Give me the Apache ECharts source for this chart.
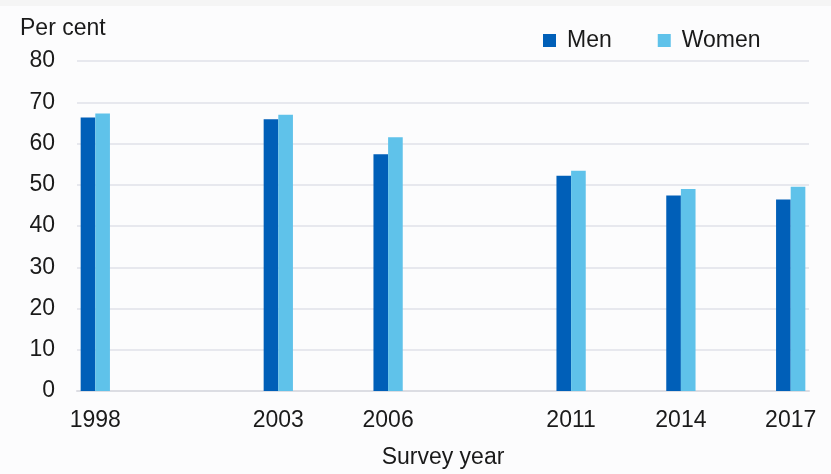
<!DOCTYPE html>
<html><head><meta charset="utf-8">
<script src="https://cdn.jsdelivr.net/npm/echarts@6/dist/echarts.min.js"></script>
<style>html,body{margin:0;padding:0;background:#fcfcfd}#c{width:831px;height:474px}</style>
</head><body><div id="c"></div>
<script>
const surveyYears = ['1998','2003','2006','2011','2014','2017'];
const men   = [66.3, 65.9, 57.4, 52.2, 47.4, 46.4];
const women = [67.3, 67.0, 61.5, 53.4, 49.0, 49.5];
const yTicks = [0,10,20,30,40,50,60,70,80];

const firstYear = +surveyYears[0], lastYear = +surveyYears[surveyYears.length-1];
const allYears = [];
for (let y = firstYear; y <= lastYear; y++) allYears.push(String(y));
const pick = arr => allYears.map(y => { const i = surveyYears.indexOf(y); return i >= 0 ? arr[i] : null; });

const font = 'Liberation Sans, Arial, sans-serif';
const fs = 23;
const chart = echarts.init(document.getElementById('c'));
chart.setOption({
  backgroundColor: '#fcfcfd',
  animation: false,
  textStyle: {fontFamily: font},
  graphic: [
    {type:'rect', left:0, top:0, shape:{width:831, height:6}, style:{fill:'#f5f5f5'}, silent:true},
    {type:'text', left:20, top:17, style:{text:'Per cent', fontSize:fs, fontFamily:font, fill:'#1a1a1a'}}
  ],
  legend: {
    left: 538, top: 24, itemWidth: 13, itemHeight: 13, itemGap: 46, icon: 'rect',
    textStyle: {fontSize: fs, color: '#1a1a1a', fontFamily: font, padding: [0,0,0,6]},
    data: ['Men','Women']
  },
  grid: {left: 77, right: 22, top: 61, bottom: 80},
  xAxis: {
    type: 'category', data: allYears,
    name: 'Survey year', nameLocation: 'middle', nameGap: 55,
    nameTextStyle: {fontSize: fs, color: '#1a1a1a', fontFamily: font},
    axisLine: {lineStyle: {color: '#dcdde3', width: 2}},
    axisTick: {show: false},
    axisLabel: {
      interval: (i, v) => surveyYears.indexOf(v) >= 0,
      fontSize: fs, color: '#1a1a1a', margin: 18, fontFamily: font
    }
  },
  yAxis: {
    type: 'value', min: yTicks[0], max: yTicks[yTicks.length-1], interval: yTicks[1]-yTicks[0],
    axisLine: {show: false}, axisTick: {show: false},
    axisLabel: {fontSize: fs, color: '#1a1a1a', margin: 22, fontFamily: font},
    splitLine: {lineStyle: {color: '#e1e2e8', width: 1.5}}
  },
  series: [
    {name: 'Men', type: 'bar', data: pick(men), itemStyle: {color: '#005fb8'}, barGap: '0%', barCategoryGap: '20%'},
    {name: 'Women', type: 'bar', data: pick(women), itemStyle: {color: '#5fc2ea'}, barGap: '0%', barCategoryGap: '20%'}
  ]
});
</script></body></html>
